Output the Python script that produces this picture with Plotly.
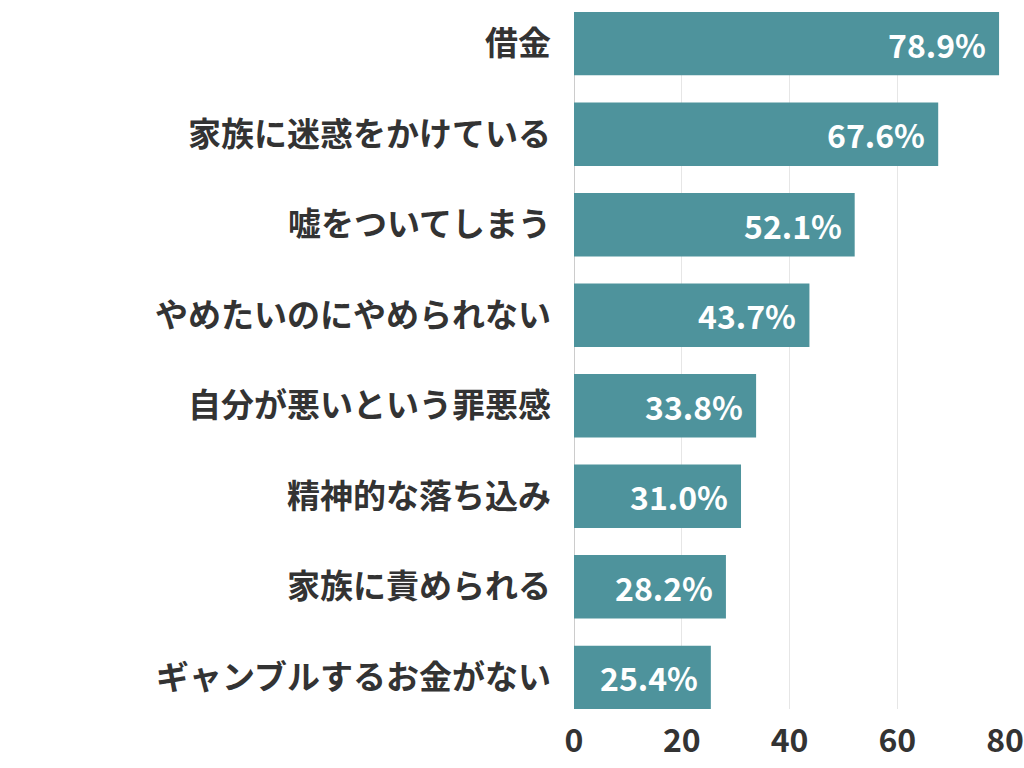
import plotly.graph_objects as go

categories = ["借金", "家族に迷惑をかけている", "嘘をついてしまう", "やめたいのにやめられない",
              "自分が悪いという罪悪感", "精神的な落ち込み", "家族に責められる", "ギャンブルするお金がない"]
values = [78.9, 67.6, 52.1, 43.7, 33.8, 31.0, 28.2, 25.4]
tick_vals = [0, 20, 40, 60, 80]

FONT = "Noto Sans CJK JP"

fig = go.Figure(go.Bar(
    x=values, y=categories, orientation="h",
    marker=dict(color="#4e939c", line=dict(width=0)),
    hoverinfo="x+y",
))
for v, c in zip(values, categories):
    fig.add_annotation(x=v, y=c, text=f"{v:.1f}%", showarrow=False, xanchor="right", xshift=-11,
                       font=dict(family=FONT, size=32, color="white", weight="bold"))
fig.update_layout(
    width=1024, height=768,
    margin=dict(l=574, r=19, t=12, b=59, autoexpand=False),
    plot_bgcolor="white", paper_bgcolor="white",
    bargap=0.3, showlegend=False,
    font=dict(family=FONT, color="#333333"),
)
fig.update_xaxes(range=[0, 80], tickvals=tick_vals, showgrid=True, gridcolor="#e6e6e6", gridwidth=1,
                 zeroline=True, zerolinecolor="#cccccc", zerolinewidth=1, automargin=False,
                 ticklabelstandoff=10,
                 tickfont=dict(family=FONT, size=32, color="#333333", weight="bold"), ticks="", fixedrange=True)
fig.update_yaxes(categoryorder="array", categoryarray=categories, autorange=False, range=[7.35, -0.35],
                 automargin=False,
                 tickfont=dict(family=FONT, size=33, color="#333333", weight="bold"), ticks="",
                 ticklabelstandoff=22, showgrid=False)
fig.write_html("out.html")
